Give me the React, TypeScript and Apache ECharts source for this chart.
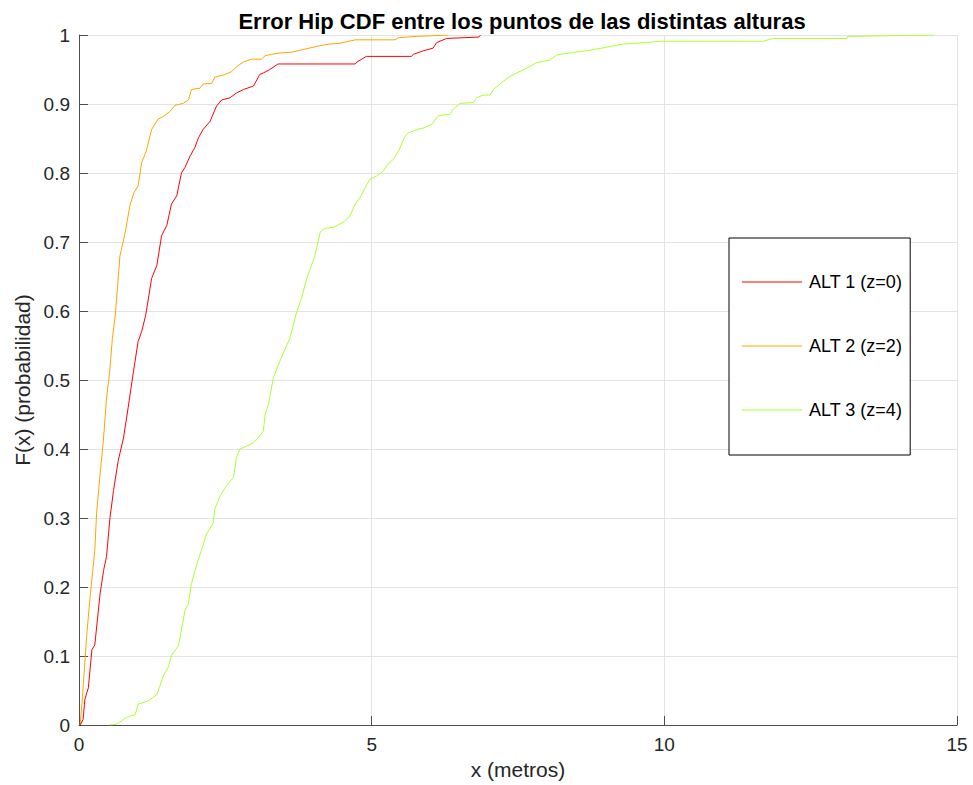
import React, { useEffect, useRef } from "react";
import * as echarts from "echarts";

const seriesNames = ["ALT 1 (z=0)", "ALT 2 (z=2)", "ALT 3 (z=4)"];
const seriesColors = ["#ff0000", "#ffa500", "#adff2f"];

const alt1X = [0.02, 0.07, 0.1, 0.16, 0.22, 0.27, 0.36, 0.42, 0.47, 0.53, 0.59, 0.67, 0.76, 0.84, 0.93, 1.01, 1.07, 1.14, 1.24, 1.33, 1.41, 1.5, 1.58, 1.67, 1.75, 1.81, 1.9, 1.98, 2.04, 2.12, 2.24, 2.35, 2.44, 2.58, 2.69, 2.81, 2.98, 3.09, 3.15, 3.26, 3.4, 4.72, 4.75, 4.91, 5.68, 5.71, 5.88, 6.05, 6.11, 6.28, 6.83, 6.86];
const alt1Y = [0, 0.008, 0.037, 0.054, 0.109, 0.116, 0.19, 0.224, 0.244, 0.301, 0.34, 0.383, 0.416, 0.46, 0.512, 0.556, 0.57, 0.594, 0.647, 0.666, 0.709, 0.724, 0.755, 0.767, 0.8, 0.808, 0.825, 0.837, 0.851, 0.863, 0.875, 0.897, 0.906, 0.909, 0.916, 0.921, 0.926, 0.943, 0.945, 0.95, 0.958, 0.958, 0.961, 0.969, 0.969, 0.972, 0.977, 0.981, 0.989, 0.995, 0.997, 1.0];

const alt2X = [0.02, 0.06, 0.1, 0.13, 0.19, 0.23, 0.27, 0.3, 0.36, 0.42, 0.47, 0.52, 0.57, 0.62, 0.7, 0.79, 0.87, 0.94, 1.01, 1.07, 1.15, 1.24, 1.35, 1.44, 1.55, 1.64, 1.78, 1.87, 1.92, 2.07, 2.12, 2.27, 2.32, 2.47, 2.61, 2.69, 2.81, 2.95, 3.12, 3.18, 3.29, 3.43, 3.63, 3.83, 4.09, 4.29, 4.46, 4.72, 5.4, 5.45, 5.77, 6.31];
const alt2Y = [0, 0.042, 0.09, 0.128, 0.186, 0.219, 0.253, 0.306, 0.363, 0.416, 0.474, 0.508, 0.56, 0.594, 0.68, 0.714, 0.753, 0.772, 0.781, 0.815, 0.832, 0.863, 0.878, 0.882, 0.889, 0.898, 0.901, 0.906, 0.921, 0.923, 0.929, 0.93, 0.939, 0.942, 0.947, 0.954, 0.961, 0.965, 0.965, 0.97, 0.972, 0.974, 0.975, 0.979, 0.984, 0.987, 0.988, 0.993, 0.993, 0.996, 0.998, 1.0];

const alt3X = [0.52, 0.64, 0.81, 0.96, 1.01, 1.18, 1.33, 1.38, 1.44, 1.53, 1.58, 1.7, 1.75, 1.81, 1.87, 1.92, 2.01, 2.09, 2.18, 2.29, 2.32, 2.41, 2.52, 2.64, 2.69, 2.75, 2.86, 2.98, 3.09, 3.15, 3.18, 3.24, 3.32, 3.43, 3.6, 3.72, 3.8, 3.89, 4.03, 4.12, 4.2, 4.34, 4.52, 4.63, 4.72, 4.8, 4.89, 4.97, 5.09, 5.2, 5.28, 5.37, 5.46, 5.57, 5.63, 5.77, 5.88, 6.02, 6.14, 6.34, 6.39, 6.51, 6.74, 6.79, 6.91, 7.02, 7.08, 7.25, 7.36, 7.48, 7.65, 7.82, 8.05, 8.16, 8.47, 8.73, 8.93, 9.3, 9.7, 9.93, 11.69, 11.86, 13.12, 13.13, 14.62];
const alt3Y = [0, 0.001, 0.011, 0.015, 0.03, 0.035, 0.044, 0.056, 0.071, 0.085, 0.101, 0.115, 0.138, 0.166, 0.176, 0.205, 0.232, 0.253, 0.277, 0.292, 0.313, 0.332, 0.347, 0.359, 0.388, 0.4, 0.404, 0.409, 0.419, 0.426, 0.45, 0.466, 0.503, 0.527, 0.56, 0.599, 0.618, 0.647, 0.68, 0.714, 0.72, 0.721, 0.729, 0.738, 0.755, 0.764, 0.779, 0.791, 0.796, 0.803, 0.813, 0.82, 0.832, 0.853, 0.858, 0.863, 0.865, 0.87, 0.883, 0.885, 0.892, 0.901, 0.902, 0.909, 0.913, 0.913, 0.921, 0.933, 0.94, 0.945, 0.952, 0.96, 0.964, 0.971, 0.975, 0.978, 0.981, 0.987, 0.989, 0.991, 0.991, 0.995, 0.995, 0.998, 1.0];

const xTicks = [0, 5, 10, 15];
const yTicks = [0, 0.1, 0.2, 0.3, 0.4, 0.5, 0.6, 0.7, 0.8, 0.9, 1];

const titleText = "Error Hip CDF entre los puntos de las distintas alturas";
const xName = "x (metros)";
const yName = "F(x) (probabilidad)";

const zip = (xs: number[], ys: number[]) => xs.map((x, i) => [x, ys[i]]);

export default function App() {
  const ref = useRef<HTMLDivElement>(null);
  useEffect(() => {
    document.body.style.margin = "0";
    if (!ref.current) return;
    const chart = echarts.init(ref.current, null, { renderer: "svg" });
    const font = "'Liberation Sans', Arial, sans-serif";
    const datasets = [zip(alt1X, alt1Y), zip(alt2X, alt2Y), zip(alt3X, alt3Y)];
    chart.setOption({
      animation: false,
      backgroundColor: "#ffffff",
      textStyle: { fontFamily: font },
      title: {
        text: titleText,
        left: 517,
        textAlign: "center",
        top: 5,
        textStyle: { fontSize: 22, fontWeight: "bold", color: "#000", fontFamily: font },
      },
      grid: { left: 79, right: 16, top: 35, bottom: 56, containLabel: false },
      legend: {
        orient: "vertical",
        left: 729,
        top: 238,
        padding: [35, 8, 36, 13],
        itemGap: 46,
        itemWidth: 60,
        itemHeight: 18,
        borderColor: "#000",
        borderWidth: 1,
        backgroundColor: "#fff",
        icon: "path://M0,0 L60,0 L60,1 L0,1 Z",
        textStyle: { fontSize: 18, color: "#000", fontFamily: font, padding: [0, 0, 0, 2] },
        data: seriesNames,
      },
      xAxis: {
        type: "value",
        min: xTicks[0],
        max: xTicks[xTicks.length - 1],
        interval: 5,
        name: xName,
        nameLocation: "middle",
        nameGap: 34,
        nameTextStyle: { fontSize: 21, color: "#262626", fontFamily: font },
        axisLine: { show: true, onZero: false, lineStyle: { color: "#4d4d4d", width: 1 } },
        axisTick: { show: true, inside: true, length: 9, lineStyle: { color: "#4d4d4d" } },
        axisLabel: { fontSize: 19, color: "#262626", margin: 10, fontFamily: font },
        splitLine: { show: true, lineStyle: { color: "#e3e3e3", width: 1 } },
      },
      yAxis: {
        type: "value",
        min: yTicks[0],
        max: yTicks[yTicks.length - 1],
        interval: 0.1,
        name: yName,
        nameLocation: "middle",
        nameGap: 45,
        nameTextStyle: { fontSize: 21, color: "#262626", fontFamily: font },
        axisLine: { show: true, onZero: false, lineStyle: { color: "#4d4d4d", width: 1 } },
        axisTick: { show: true, inside: true, length: 9, lineStyle: { color: "#4d4d4d" } },
        axisLabel: { fontSize: 19, color: "#262626", margin: 9, fontFamily: font },
        splitLine: { show: true, lineStyle: { color: "#e3e3e3", width: 1 } },
      },
      series: seriesNames.map((name, i) => ({
        name,
        type: "line",
        data: datasets[i],
        showSymbol: false,
        symbol: "none",
        color: seriesColors[i],
        lineStyle: { color: seriesColors[i], width: 1 },
        z: 3 - i,
      })),
    });
    return () => chart.dispose();
  }, []);
  return <div ref={ref} style={{ width: 973, height: 785 }} />;
}
